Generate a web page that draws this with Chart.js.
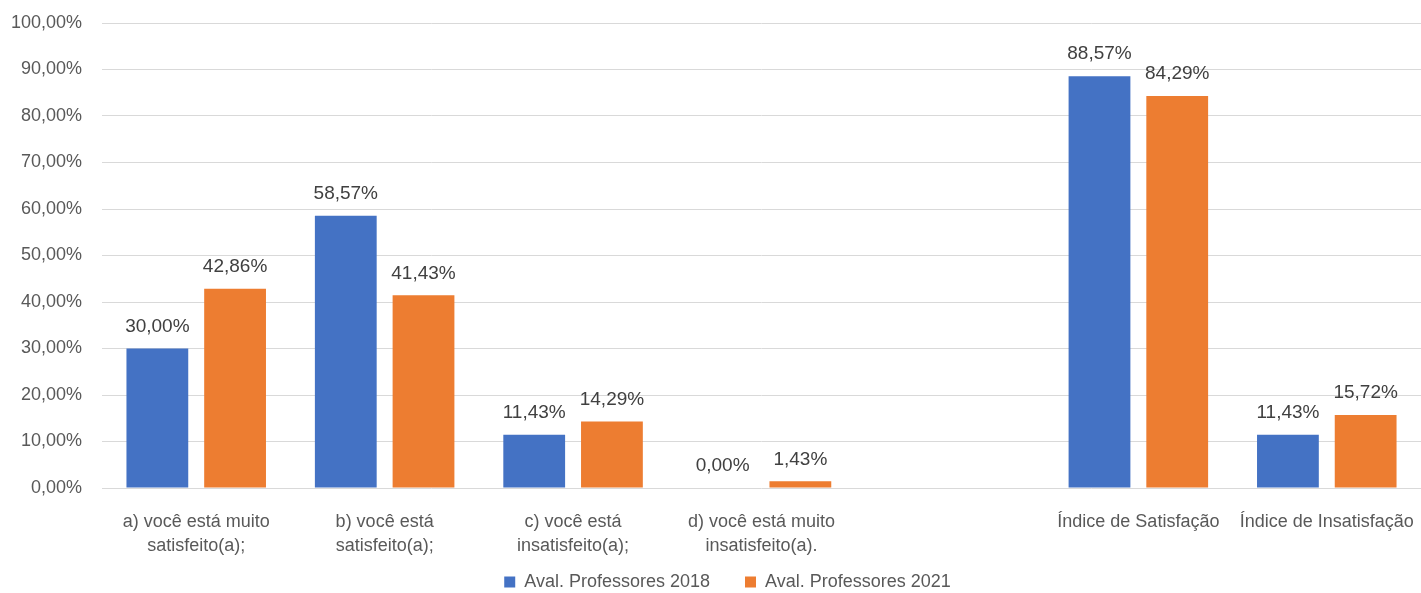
<!DOCTYPE html>
<html>
<head>
<meta charset="utf-8">
<script src="https://cdn.jsdelivr.net/npm/chart.js@4/dist/chart.umd.min.js"></script>
<style>
  html, body { margin: 0; padding: 0; background: #ffffff; }
  #wrap { width: 1421px; height: 593px; }
</style>
</head>
<body>
<div id="wrap"><canvas id="chart" width="1421" height="593"></canvas></div>
<script>
// categories (one empty slot between d) and the indices)
const categories = [
    ['a) você está muito', 'satisfeito(a);'],
    ['b) você está', 'satisfeito(a);'],
    ['c) você está', 'insatisfeito(a);'],
    ['d) você está muito', 'insatisfeito(a).'],
    '',
    'Índice de Satisfação',
    'Índice de Insatisfação'
];
const series_names = ['Aval. Professores 2018', 'Aval. Professores 2021'];
const values_2018 = [30.00, 58.57, 11.43, 0.00, null, 88.57, 11.43];
const values_2021 = [42.86, 41.43, 14.29, 1.43, null, 84.29, 15.72];
const y_ticks = [0, 10, 20, 30, 40, 50, 60, 70, 80, 90, 100];

const FONT = "'Liberation Sans', Arial, sans-serif";

function pct(v) {
    return v.toFixed(2).replace('.', ',') + '%';
}

// draws the value above every bar
const bar_labels = {
    id: 'bar_labels',
    afterDatasetsDraw(chart) {
        const ctx = chart.ctx;
        ctx.save();
        ctx.font = '19px ' + FONT;
        ctx.fillStyle = '#404040';
        ctx.textAlign = 'center';
        ctx.textBaseline = 'middle';
        chart.data.datasets.forEach((ds, i) => {
            const meta = chart.getDatasetMeta(i);
            meta.data.forEach((bar, j) => {
                const v = ds.data[j];
                if (v === null || v === undefined) return;
                ctx.fillText(pct(v), bar.x, bar.y - 22);
            });
        });
        ctx.restore();
    }
};

// nudge the legend box to where the original puts it
const legend_shift = {
    id: 'legend_shift',
    afterLayout(chart) {
        const lg = chart.legend;
        if (!lg) return;
        lg.left += 17;
        lg.right += 17;
        lg.top -= 20;
        lg.bottom -= 20;
    }
};

const config = {
    type: 'bar',
    data: {
        labels: categories,
        datasets: [
            {
                label: series_names[0],
                data: values_2018,
                backgroundColor: '#4472C4',
                categoryPercentage: 0.825,
                barPercentage: 0.795
            },
            {
                label: series_names[1],
                data: values_2021,
                backgroundColor: '#ED7D31',
                categoryPercentage: 0.825,
                barPercentage: 0.795
            }
        ]
    },
    options: {
        responsive: false,
        animation: false,
        layout: {
            padding: { top: 23, left: 0, right: 0, bottom: -28 }
        },
        plugins: {
            legend: {
                position: 'bottom',
                labels: {
                    boxWidth: 11,
                    boxHeight: 11,
                    padding: 35,
                    color: '#595959',
                    font: { family: FONT, size: 18 }
                }
            },
            tooltip: { enabled: false }
        },
        scales: {
            x: {
                grid: { display: false },
                border: { display: false },
                ticks: {
                    color: '#595959',
                    font: { family: FONT, size: 18, lineHeight: 24 / 18 },
                    padding: 14,
                    autoSkip: false,
                    maxRotation: 0,
                    minRotation: 0
                },
                afterFit(scale) {
                    scale.height = 70;
                    scale.paddingLeft = 0;
                    scale.paddingRight = 0;
                }
            },
            y: {
                min: 0,
                max: 100,
                afterBuildTicks(scale) {
                    scale.ticks = y_ticks.map(v => ({ value: v }));
                },
                grid: {
                    color: '#d9d9d9',
                    lineWidth: 1,
                    drawTicks: false
                },
                border: { display: false },
                ticks: {
                    color: '#595959',
                    font: { family: FONT, size: 18 },
                    padding: 20,
                    callback: v => pct(v)
                },
                afterFit(scale) {
                    scale.width = 102;
                    scale.paddingTop = 0;
                    scale.paddingBottom = 0;
                }
            }
        }
    },
    plugins: [bar_labels, legend_shift]
};

const chart = new Chart(document.getElementById('chart'), config);
</script>
</body>
</html>
